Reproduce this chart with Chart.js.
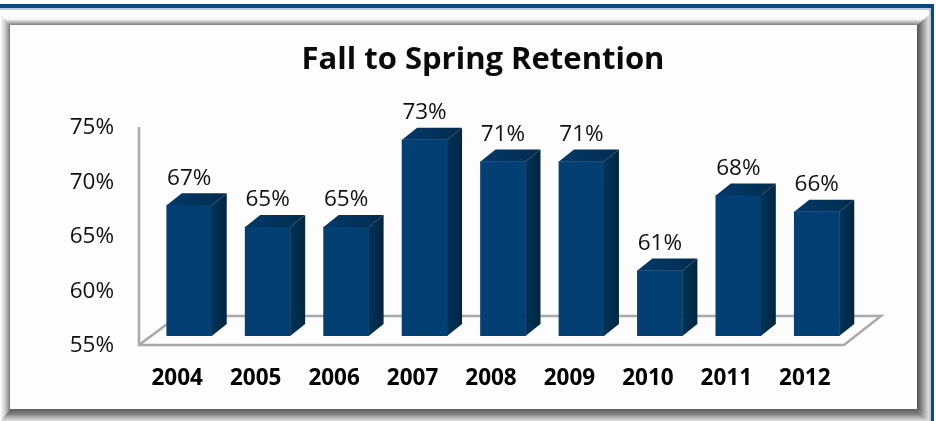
<!DOCTYPE html>
<html>
<head>
<meta charset="utf-8">
<script src="https://cdn.jsdelivr.net/npm/chart.js@4"></script>
<style>
html,body{margin:0;padding:0;background:#fff;overflow:hidden}
#wrap{position:relative;width:936px;height:421px}
</style>
</head>
<body>
<div id="wrap"><canvas id="c" width="936" height="421"></canvas></div>
<script>
const categories = ['2004','2005','2006','2007','2008','2009','2010','2011','2012'];
const retention = [67, 65, 65, 73, 71, 71, 61, 67.9, 66.4];
const yTicks = [55, 60, 65, 70, 75];
const chartTitle = 'Fall to Spring Retention';

const FONT = '"Open Sans", Lato, sans-serif';
const DEPTH = {dx: 15, dy: 12};

function poly(ctx, pts, fill) {
  ctx.beginPath();
  pts.forEach((p, i) => i ? ctx.lineTo(p[0], p[1]) : ctx.moveTo(p[0], p[1]));
  ctx.closePath();
  ctx.fillStyle = fill;
  ctx.fill();
}
function linGrad(ctx, x0, y0, x1, y1, stops) {
  const g = ctx.createLinearGradient(x0, y0, x1, y1);
  stops.forEach(s => g.addColorStop(s[0], s[1]));
  return g;
}

const framePlugin = {
  id: 'frame',
  afterLayout(chart) {
    // the y labels sit left of the narrow axis box; widen its clip area
    chart.scales.y.left = 20;
  },
  beforeDraw(chart) {
    const ctx = chart.ctx;
    ctx.save();
    ctx.fillStyle = '#ffffff';
    ctx.fillRect(0, 0, 936, 421);
    ctx.fillStyle = '#b9cbe2'; ctx.fillRect(0, 8, 931, 2); ctx.fillRect(929, 8, 2, 413);
    ctx.fillStyle = '#0b4a7f'; ctx.fillRect(0, 4, 934, 4); ctx.fillRect(931, 4, 3, 417);
    const L = 10, T = 25, R = 917, B = 409, oL = 1, oT = 15, oR = 929, oB = 421;
    ctx.fillStyle = '#fdfdfd'; ctx.fillRect(L, T, R - L, B - T);
    poly(ctx, [[oL, oT], [oR, oT], [R, T], [L, T]],
      linGrad(ctx, 0, oT, 0, T, [[0, '#ffffff'], [0.45, '#f4f4f4'], [0.8, '#a8a8a8'], [1, '#7c7c7c']]));
    poly(ctx, [[oL, oT], [L, T], [L, B], [oL, oB]],
      linGrad(ctx, oL, 0, L, 0, [[0, '#f4f4f4'], [0.4, '#d4d4d4'], [0.8, '#9a9a9a'], [1, '#777777']]));
    poly(ctx, [[R, T], [oR, oT], [oR, oB], [R, B]],
      linGrad(ctx, R, 0, oR, 0, [[0, '#4f4f4f'], [0.3, '#7a7a7a'], [0.7, '#b8b8b8'], [1, '#e2e2e2']]));
    poly(ctx, [[L, B], [R, B], [oR, oB], [oL, oB]],
      linGrad(ctx, 0, B, 0, oB, [[0, '#5f5f5f'], [0.4, '#7d7d7d'], [0.75, '#b8b8b8'], [1, '#e0e0e0']]));
    ctx.restore();
  },
  beforeDatasetsDraw(chart) {
    const ctx = chart.ctx, y = chart.scales.y;
    const fy = y.getPixelForValue(55) + 9;
    const ty = y.getPixelForValue(75) + 9;
    ctx.save();
    ctx.strokeStyle = '#a9a9a9';
    ctx.lineWidth = 2.5;
    ctx.lineJoin = 'miter';
    ctx.beginPath();
    ctx.moveTo(139, ty);
    ctx.lineTo(139, fy);
    ctx.lineTo(844, fy);
    ctx.lineTo(881, fy - 29);
    ctx.lineTo(178, fy - 29);
    ctx.lineTo(139, fy);
    ctx.stroke();
    ctx.restore();
  },
  afterDatasetsDraw(chart) {
    const ctx = chart.ctx, meta = chart.getDatasetMeta(0);
    ctx.save();
    meta.data.forEach((bar, i) => {
      const w = bar.width / 2, l = bar.x - w, r = bar.x + w, t = bar.y, b = bar.base;
      const {dx, dy} = DEPTH;
      poly(ctx, [[r, t], [r + dx, t - dy], [r + dx, b - dy], [r, b]],
        linGrad(ctx, r, 0, r + dx, 0, [[0, '#023356'], [1, '#012640']]));
      poly(ctx, [[l, t], [l + dx, t - dy], [r + dx, t - dy], [r, t]],
        linGrad(ctx, l, 0, r + dx, 0, [[0, '#03396a'], [1, '#022c4e']]));
      ctx.fillStyle = '#111111';
      ctx.font = '22.5px ' + FONT;
      ctx.textAlign = 'center';
      ctx.textBaseline = 'middle';
      ctx.fillText(Math.round(retention[i]) + '%', bar.x, t - 27);
    });
    ctx.restore();
  }
};

new Chart(document.getElementById('c'), {
  type: 'bar',
  data: {
    labels: categories,
    datasets: [{
      data: retention,
      base: 55,
      backgroundColor: '#033f72',
      borderWidth: 0,
      barThickness: 45
    }]
  },
  options: {
    responsive: false,
    animation: false,
    layout: {padding: {left: 110, right: 80, top: 0, bottom: 0}},
    plugins: {
      legend: {display: false},
      tooltip: {enabled: false},
      title: {
        display: true,
        text: chartTitle,
        color: '#0a0a0a',
        font: {family: FONT, size: 31, weight: 'bold'},
        padding: {top: 42, bottom: 38.8}
      }
    },
    scales: {
      x: {
        grid: {display: false},
        border: {display: false},
        ticks: {
          color: '#000000',
          font: {family: FONT, size: 22.5, weight: 'bold'},
          labelOffset: -12,
          padding: 21,
          maxRotation: 0,
          autoSkip: false
        },
        afterFit(s) { s.height = 85; }
      },
      y: {
        min: 55,
        max: 75,
        afterBuildTicks(s) { s.ticks = yTicks.map(v => ({value: v})); },
        grid: {display: false},
        border: {display: false},
        ticks: {
          color: '#111111',
          font: {family: FONT, size: 22.5},
          labelOffset: 10,
          padding: 28,
          callback: v => v + '%'
        },
        afterFit(s) { s.width = 40; }
      }
    }
  },
  plugins: [framePlugin]
});
</script>
</body>
</html>
